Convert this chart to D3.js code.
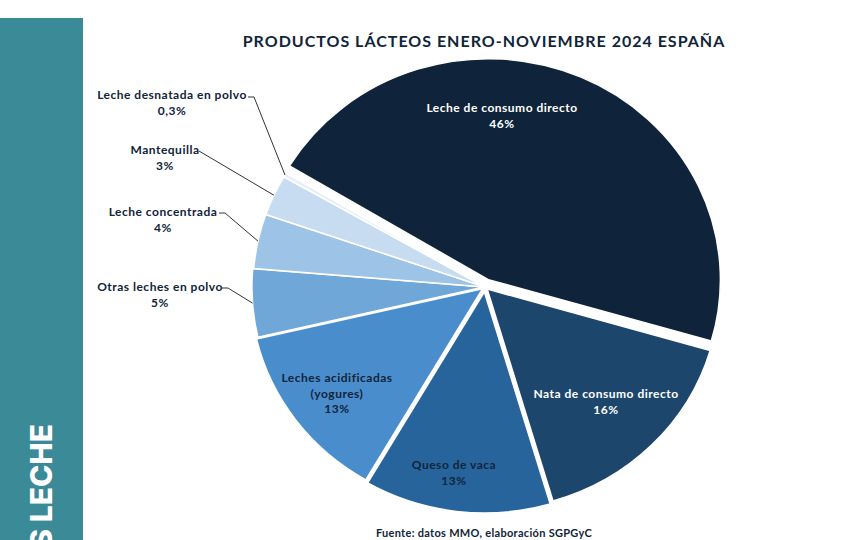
<!DOCTYPE html>
<html>
<head>
<meta charset="utf-8">
<script src="https://cdn.jsdelivr.net/npm/d3@7"></script>
<style>
  body { margin: 0; background: #fff; }
  svg { display: block; }
  text { font-family: Lato, "Open Sans", sans-serif; font-weight: bold; }
</style>
</head>
<body>
<div id="chart"></div>
<script>
// data
var categories = ["Leche de consumo directo", "Nata de consumo directo", "Queso de vaca",
                  "Leches acidificadas (yogures)", "Otras leches en polvo", "Leche concentrada",
                  "Mantequilla", "Leche desnatada en polvo"];
var shares = [46, 16, 13, 13, 5, 4, 3, 0.3];
var shareLabels = ["46%", "16%", "13%", "13%", "5%", "4%", "3%", "0,3%"];

var colors = ["#0f243a", "#1d466c", "#28649c", "#4a8dcd", "#70a7d9", "#9dc3e6", "#c8dcf1", "#e6eff9"];

// label layout: lines of text, anchor point, text colour, leader start
var labelLayout = [
  { lines: ["Leche de consumo directo"], x: 502, y: 112, fill: "#fff" },
  { lines: ["Nata de consumo directo"], x: 606, y: 398, fill: "#fff" },
  { lines: ["Queso de vaca"], x: 454, y: 469, fill: "#10243a" },
  { lines: ["Leches acidificadas", "(yogures)"], x: 337, y: 382, fill: "#10243a" },
  { lines: ["Otras leches en polvo"], x: 160, y: 291, fill: "#10243a", lead: [[222, 288], [228, 288]] },
  { lines: ["Leche concentrada"], x: 163, y: 216, fill: "#10243a", lead: [[219, 213], [225, 213]] },
  { lines: ["Mantequilla"], x: 165, y: 154, fill: "#10243a", lead: [[199, 151]] },
  { lines: ["Leche desnatada en polvo"], x: 172, y: 99, fill: "#10243a", lead: [[248, 97], [254, 97]] }
];
var explode = [8, 3, 5, 3, 1, 0, 0, 0];

var w = 858, h = 540;
var cx = 485, cy = 287, r = 221, sx = 1.05;

var svg = d3.select("#chart").append("svg")
  .attr("width", w)
  .attr("height", h);

// side band
svg.append("rect")
  .attr("x", 0).attr("y", 18)
  .attr("width", 83).attr("height", h - 18)
  .attr("fill", "#3b8a98");
svg.append("text")
  .attr("transform", "translate(52,424) rotate(-90)")
  .attr("text-anchor", "end")
  .style("font-family", "Inter, sans-serif")
  .style("font-weight", 800)
  .style("font-size", "30px")
  .attr("fill", "#fff")
  .text("PRODUCTOS LECHE");

// title
svg.append("text")
  .attr("x", 484).attr("y", 47)
  .attr("text-anchor", "middle")
  .style("font-size", "16px")
  .style("letter-spacing", "1px")
  .attr("fill", "#10243a")
  .text("PRODUCTOS LÁCTEOS ENERO-NOVIEMBRE 2024 ESPAÑA");

var a0 = -59 * Math.PI / 180;
var pie = d3.pie().sort(null).startAngle(a0).endAngle(a0 + 2 * Math.PI);
var arcs = pie(shares);
var arc = d3.arc().innerRadius(0).outerRadius(r);

var g = svg.append("g")
  .attr("transform", "translate(" + cx + "," + cy + ") scale(" + sx + ",1)");

g.selectAll("path.slice")
  .data(arcs)
  .enter()
  .append("path")
  .attr("class", "slice")
  .attr("d", arc)
  .attr("transform", function(d, i) {
    var m = (d.startAngle + d.endAngle) / 2;
    return "translate(" + (Math.sin(m) * explode[i]) + "," + (-Math.cos(m) * explode[i]) + ")";
  })
  .attr("fill", function(d, i) { return colors[i]; })
  .attr("stroke", "#fff")
  .attr("stroke-width", 1.5)
  .attr("vector-effect", "non-scaling-stroke");

// point on the outer edge, in page coordinates
function edgePoint(d, i) {
  var m = (d.startAngle + d.endAngle) / 2;
  var rr = r + explode[i];
  return [cx + sx * Math.sin(m) * rr, cy - Math.cos(m) * rr];
}

// leader lines
var line = d3.line();
arcs.forEach(function(d, i) {
  var L = labelLayout[i];
  if (!L.lead) return;
  svg.append("path")
    .attr("d", line(L.lead.concat([edgePoint(d, i)])))
    .attr("fill", "none")
    .attr("stroke", "#333")
    .attr("stroke-width", 1);
});

// labels
arcs.forEach(function(d, i) {
  var L = labelLayout[i];
  var t = svg.append("text")
    .attr("text-anchor", "middle")
    .style("font-size", "12px")
    .style("letter-spacing", "0.5px")
    .attr("fill", L.fill);
  L.lines.concat([shareLabels[i]]).forEach(function(s, k) {
    t.append("tspan")
      .attr("x", L.x)
      .attr("y", L.y + k * 15.5)
      .text(s);
  });
});

// source
svg.append("text")
  .attr("x", 484).attr("y", 537)
  .attr("text-anchor", "middle")
  .style("font-size", "11px")
  .style("letter-spacing", "0.3px")
  .attr("fill", "#10243a")
  .text("Fuente: datos MMO, elaboración SGPGyC");
</script>
</body>
</html>
